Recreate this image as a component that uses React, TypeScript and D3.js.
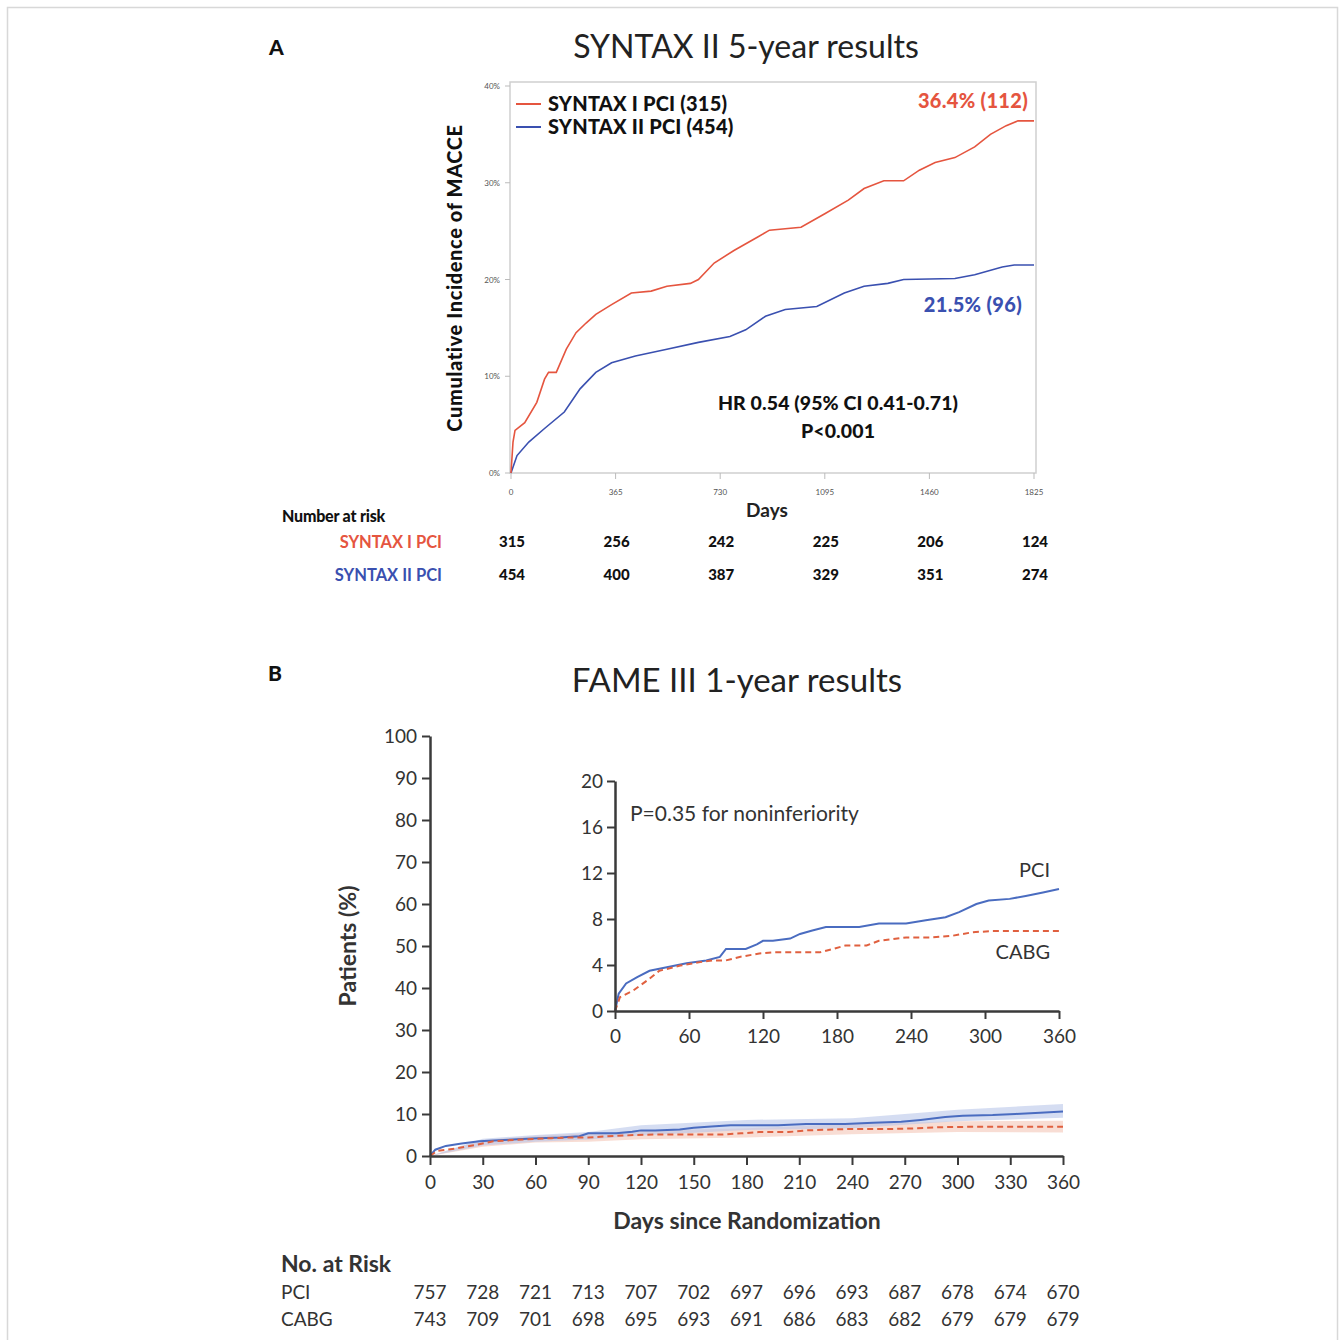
import React, { useEffect, useRef } from "react";
import * as d3 from "d3";

// panel A: SYNTAX II, cumulative MACCE (%)
const syntaxIDays = [0, 7, 14, 48, 90, 117, 131, 158, 193, 227, 262, 296, 351, 420, 489, 544, 626, 654, 709, 778, 861, 902, 1012, 1095, 1177, 1232, 1301, 1370, 1425, 1480, 1549, 1618, 1673, 1728, 1769, 1825];
const syntaxIPct = [0, 3.2, 4.4, 5.2, 7.3, 9.7, 10.4, 10.4, 12.8, 14.5, 15.5, 16.4, 17.4, 18.6, 18.8, 19.3, 19.6, 20.0, 21.7, 23.0, 24.4, 25.1, 25.4, 26.8, 28.2, 29.4, 30.2, 30.2, 31.3, 32.1, 32.6, 33.7, 35.0, 35.9, 36.4, 36.4];
const syntaxIIDays = [0, 21, 62, 117, 186, 241, 296, 351, 434, 544, 654, 764, 819, 888, 957, 1067, 1163, 1232, 1315, 1370, 1549, 1618, 1714, 1756, 1825];
const syntaxIIPct = [0, 1.8, 3.2, 4.6, 6.3, 8.7, 10.4, 11.4, 12.1, 12.8, 13.5, 14.1, 14.8, 16.2, 16.9, 17.2, 18.6, 19.3, 19.6, 20.0, 20.1, 20.5, 21.3, 21.5, 21.5];
const syntaxTicksX = [0, 365, 730, 1095, 1460, 1825];
const syntaxTicksY = [0, 10, 20, 30, 40];
const syntaxRiskI = [315, 256, 242, 225, 206, 124];
const syntaxRiskII = [454, 400, 387, 329, 351, 274];

// panel B: FAME III, patients (%)
const pciDays = [0, 3, 9, 18, 28, 42, 58, 74, 85, 90, 106, 115, 120, 128, 142, 150, 160, 171, 198, 214, 236, 252, 268, 279, 293, 303, 320, 333, 347, 360];
const pciPct = [0, 1.5, 2.4, 2.95, 3.5, 3.8, 4.15, 4.4, 4.7, 5.4, 5.4, 5.8, 6.1, 6.1, 6.3, 6.7, 7.0, 7.3, 7.3, 7.6, 7.6, 7.9, 8.15, 8.6, 9.3, 9.6, 9.75, 10.0, 10.3, 10.6];
const cabgDays = [0, 4, 15, 26, 36, 53, 69, 80, 90, 101, 117, 128, 166, 177, 187, 204, 214, 236, 257, 274, 290, 306, 360];
const cabgPct = [0, 1.2, 1.8, 2.65, 3.5, 3.95, 4.25, 4.4, 4.4, 4.7, 5.0, 5.1, 5.1, 5.4, 5.7, 5.7, 6.1, 6.4, 6.4, 6.55, 6.85, 6.95, 6.95];
const bandDays = [0, 30, 60, 90, 120, 180, 240, 300, 360];
const pciLow = [0, 2.5, 3.4, 3.9, 4.9, 6.2, 6.6, 8.3, 9.1];
const pciHigh = [0, 4.1, 5.0, 5.7, 7.3, 8.6, 9.0, 11.0, 12.4];
const cabgLow = [0, 2.2, 3.2, 3.4, 4.0, 4.4, 5.2, 5.7, 5.6];
const cabgHigh = [0, 3.8, 4.8, 5.4, 6.0, 6.6, 7.6, 8.3, 8.4];
const fameTicksX = [0, 30, 60, 90, 120, 150, 180, 210, 240, 270, 300, 330, 360];
const fameTicksY = [0, 10, 20, 30, 40, 50, 60, 70, 80, 90, 100];
const insetTicksX = [0, 60, 120, 180, 240, 300, 360];
const insetTicksY = [0, 4, 8, 12, 16, 20];
const famePciRisk = [757, 728, 721, 713, 707, 702, 697, 696, 693, 687, 678, 674, 670];
const fameCabgRisk = [743, 709, 701, 698, 695, 693, 691, 686, 683, 682, 679, 679, 679];

const RED_A = "#e5553f";
const BLUE_A = "#3a50b0";
const RED_B = "#e0603f";
const BLUE_B = "#4a6cc0";
const FONT = "Lato, 'Open Sans', sans-serif";

const zip = (xs: number[], ys: number[]) => xs.map((x, i) => [x, ys[i]] as [number, number]);

const App = () => {
  const ref = useRef<SVGSVGElement>(null);

  useEffect(() => {
    const svg = d3.select(ref.current);
    svg.selectAll("*").remove();
    svg.style("font-family", FONT);

    svg.append("rect").attr("width", 1340).attr("height", 1340).attr("fill", "#fff");
    svg.append("rect")
      .attr("x", 7.5).attr("y", 7.5).attr("width", 1330).attr("height", 1345)
      .attr("fill", "none").attr("stroke", "#d8d8d8").attr("stroke-width", 1.5);

    // ---------------- panel A ----------------
    const gA = svg.append("g");
    gA.append("text").attr("x", 269).attr("y", 55).attr("font-size", 21).attr("font-weight", 900)
      .attr("fill", "#111").text("A");
    gA.append("text").attr("x", 746).attr("y", 58).attr("text-anchor", "middle").attr("font-size", 32)
      .attr("fill", "#222").text("SYNTAX II 5-year results");

    const xA = d3.scaleLinear().domain([0, 1825]).range([511, 1034]);
    const yA = d3.scaleLinear().domain([0, 40]).range([473, 86]);

    gA.append("rect").attr("x", 510).attr("y", 82).attr("width", 526).attr("height", 391)
      .attr("fill", "none").attr("stroke", "#cfcfcf").attr("stroke-width", 1.5);

    gA.selectAll("line.ya").data(syntaxTicksY).join("line")
      .attr("x1", 505).attr("x2", 510).attr("y1", d => yA(d)).attr("y2", d => yA(d))
      .attr("stroke", "#bbb");
    gA.selectAll("text.ya").data(syntaxTicksY).join("text")
      .attr("x", 500).attr("y", d => yA(d) + 3).attr("text-anchor", "end")
      .attr("font-size", 8).attr("fill", "#555").text(d => `${d}%`);
    gA.selectAll("line.xa").data(syntaxTicksX).join("line")
      .attr("x1", d => xA(d)).attr("x2", d => xA(d)).attr("y1", 473).attr("y2", 479)
      .attr("stroke", "#bbb");
    gA.selectAll("text.xa").data(syntaxTicksX).join("text")
      .attr("x", d => xA(d)).attr("y", 495).attr("text-anchor", "middle")
      .attr("font-size", 8).attr("fill", "#555").text(d => d);

    const lineA = d3.line<[number, number]>().x(d => xA(d[0])).y(d => yA(d[1]));
    gA.append("path").attr("d", lineA(zip(syntaxIIDays, syntaxIIPct)))
      .attr("fill", "none").attr("stroke", BLUE_A).attr("stroke-width", 1.6);
    gA.append("path").attr("d", lineA(zip(syntaxIDays, syntaxIPct)))
      .attr("fill", "none").attr("stroke", RED_A).attr("stroke-width", 1.6);

    // legend
    [["SYNTAX I PCI (315)", RED_A, 104], ["SYNTAX II PCI (454)", BLUE_A, 127]].forEach(([label, c, y]) => {
      gA.append("line").attr("x1", 516).attr("x2", 541).attr("y1", y).attr("y2", y)
        .attr("stroke", c as string).attr("stroke-width", 2);
      gA.append("text").attr("x", 548).attr("y", (y as number) + 7).attr("font-size", 20)
        .attr("font-weight", 900).attr("fill", "#111").attr("letter-spacing", 0.2).text(label as string);
    });

    gA.append("text").attr("x", 1028).attr("y", 108).attr("text-anchor", "end").attr("font-size", 20)
      .attr("font-weight", 900).attr("fill", RED_A).attr("letter-spacing", 0.3).text("36.4% (112)");
    gA.append("text").attr("x", 1022).attr("y", 312).attr("text-anchor", "end").attr("font-size", 20)
      .attr("font-weight", 900).attr("fill", BLUE_A).attr("letter-spacing", 0.3).text("21.5% (96)");
    gA.append("text").attr("x", 838).attr("y", 410).attr("text-anchor", "middle").attr("font-size", 19.5)
      .attr("font-weight", 900).attr("fill", "#111").attr("letter-spacing", 0.1).text("HR 0.54 (95% CI 0.41-0.71)");
    gA.append("text").attr("x", 838).attr("y", 438).attr("text-anchor", "middle").attr("font-size", 19.5)
      .attr("font-weight", 900).attr("fill", "#111").attr("letter-spacing", 0.1).text("P<0.001");

    gA.append("text").attr("transform", "translate(462,278) rotate(-90)").attr("text-anchor", "middle")
      .attr("font-size", 20).attr("font-weight", 900).attr("fill", "#111").attr("letter-spacing", 0.6)
      .text("Cumulative Incidence of MACCE");
    gA.append("text").attr("x", 767).attr("y", 517).attr("text-anchor", "middle").attr("font-size", 19)
      .attr("font-weight", 700).attr("fill", "#222").text("Days");

    // number at risk A
    gA.append("text").attr("x", 282).attr("y", 522).attr("font-size", 16).attr("font-weight", 900)
      .attr("fill", "#111").attr("letter-spacing", -0.2).text("Number at risk");
    gA.append("text").attr("x", 442).attr("y", 548).attr("text-anchor", "end").attr("font-size", 16.5)
      .attr("font-weight", 700).attr("fill", RED_A).attr("letter-spacing", 0).text("SYNTAX I PCI");
    gA.append("text").attr("x", 442).attr("y", 581).attr("text-anchor", "end").attr("font-size", 16.5)
      .attr("font-weight", 700).attr("fill", BLUE_A).attr("letter-spacing", 0).text("SYNTAX II PCI");
    [[syntaxRiskI, 547], [syntaxRiskII, 580]].forEach(([vals, y]) => {
      gA.selectAll(null).data(vals as number[]).join("text")
        .attr("x", (d, i) => xA(syntaxTicksX[i]) + 1).attr("y", y as number).attr("text-anchor", "middle")
        .attr("font-size", 15).attr("font-weight", 900).attr("fill", "#111")
        .text(d => d);
    });

    // ---------------- panel B ----------------
    const gB = svg.append("g").attr("fill", "#333");
    gB.append("text").attr("x", 268).attr("y", 681).attr("font-size", 21).attr("font-weight", 900)
      .attr("fill", "#111").text("B");
    gB.append("text").attr("x", 737).attr("y", 692).attr("text-anchor", "middle").attr("font-size", 33)
      .attr("fill", "#222").text("FAME III 1-year results");

    const xB = d3.scaleLinear().domain([0, 360]).range([430, 1063]);
    const yB = d3.scaleLinear().domain([0, 100]).range([1156, 736]);

    const bandB = (lo: number[], hi: number[]) =>
      d3.area<number>().x((d, i) => xB(bandDays[i])).y0((d, i) => yB(lo[i])).y1((d, i) => yB(hi[i]))(lo);
    gB.append("path").attr("d", bandB(cabgLow, cabgHigh)).attr("fill", "#f4c6b8").attr("opacity", 0.6);
    gB.append("path").attr("d", bandB(pciLow, pciHigh)).attr("fill", "#b9c7ea").attr("opacity", 0.6);

    const lineB = d3.line<[number, number]>().x(d => xB(d[0])).y(d => yB(d[1]));
    gB.append("path").attr("d", lineB(zip(pciDays, pciPct)))
      .attr("fill", "none").attr("stroke", BLUE_B).attr("stroke-width", 2);
    gB.append("path").attr("d", lineB(zip(cabgDays, cabgPct)))
      .attr("fill", "none").attr("stroke", RED_B).attr("stroke-width", 2).attr("stroke-dasharray", "6,4");

    const styleAxis = (g: any, size: number) => {
      g.select(".domain").attr("stroke", "#3a3a3a").attr("stroke-width", 2.5);
      g.selectAll(".tick line").attr("stroke", "#3a3a3a").attr("stroke-width", 2);
      g.selectAll(".tick text").attr("font-size", size).attr("fill", "#333").attr("font-family", FONT);
    };

    gB.append("g").attr("transform", "translate(430,0)")
      .call(d3.axisLeft(yB).tickValues(fameTicksY).tickSize(8).tickSizeOuter(0).tickPadding(5))
      .call((g: any) => styleAxis(g, 19));
    gB.append("g").attr("transform", "translate(0,1156)")
      .call(d3.axisBottom(xB).tickValues(fameTicksX).tickSize(9).tickSizeOuter(0).tickPadding(11))
      .call((g: any) => styleAxis(g, 19));

    gB.append("text").attr("transform", "translate(356,946) rotate(-90)").attr("text-anchor", "middle")
      .attr("font-size", 23).attr("font-weight", 700).attr("fill", "#333").text("Patients (%)");
    gB.append("text").attr("x", 747).attr("y", 1229).attr("text-anchor", "middle")
      .attr("font-size", 23).attr("font-weight", 700).attr("fill", "#333").text("Days since Randomization");

    // inset
    const xI = d3.scaleLinear().domain([0, 360]).range([615, 1059]);
    const yI = d3.scaleLinear().domain([0, 20]).range([1011, 781]);
    const lineI = d3.line<[number, number]>().x(d => xI(d[0])).y(d => yI(d[1]));
    gB.append("path").attr("d", lineI(zip(pciDays, pciPct)))
      .attr("fill", "none").attr("stroke", BLUE_B).attr("stroke-width", 2);
    gB.append("path").attr("d", lineI(zip(cabgDays, cabgPct)))
      .attr("fill", "none").attr("stroke", RED_B).attr("stroke-width", 2).attr("stroke-dasharray", "6,4");

    gB.append("g").attr("transform", "translate(615,0)")
      .call(d3.axisLeft(yI).tickValues(insetTicksY).tickSize(8).tickSizeOuter(0).tickPadding(4))
      .call((g: any) => styleAxis(g, 19));
    gB.append("g").attr("transform", "translate(0,1011)")
      .call(d3.axisBottom(xI).tickValues(insetTicksX).tickSize(8).tickSizeOuter(0).tickPadding(11))
      .call((g: any) => styleAxis(g, 19));

    gB.append("text").attr("x", 630).attr("y", 821).attr("font-size", 21).attr("fill", "#333")
      .text("P=0.35 for noninferiority");
    gB.append("text").attr("x", 1050).attr("y", 877).attr("text-anchor", "end").attr("font-size", 20)
      .attr("fill", "#333").text("PCI");
    gB.append("text").attr("x", 1050).attr("y", 959).attr("text-anchor", "end").attr("font-size", 20)
      .attr("fill", "#333").text("CABG");

    // number at risk B
    gB.append("text").attr("x", 281).attr("y", 1272).attr("font-size", 23).attr("font-weight", 700)
      .attr("fill", "#333").text("No. at Risk");
    gB.append("text").attr("x", 281).attr("y", 1299).attr("font-size", 19).attr("fill", "#333").text("PCI");
    gB.append("text").attr("x", 281).attr("y", 1326).attr("font-size", 19).attr("fill", "#333").text("CABG");
    [[famePciRisk, 1299], [fameCabgRisk, 1326]].forEach(([vals, y]) => {
      gB.selectAll(null).data(vals as number[]).join("text")
        .attr("x", (d, i) => xB(fameTicksX[i])).attr("y", y as number).attr("text-anchor", "middle")
        .attr("font-size", 19).attr("fill", "#333").text(d => d);
    });
  }, []);

  return (
    <svg ref={ref} width={1340} height={1340}
      style={{ position: "absolute", left: 0, top: 0, display: "block" }} />
  );
};

export default App;
